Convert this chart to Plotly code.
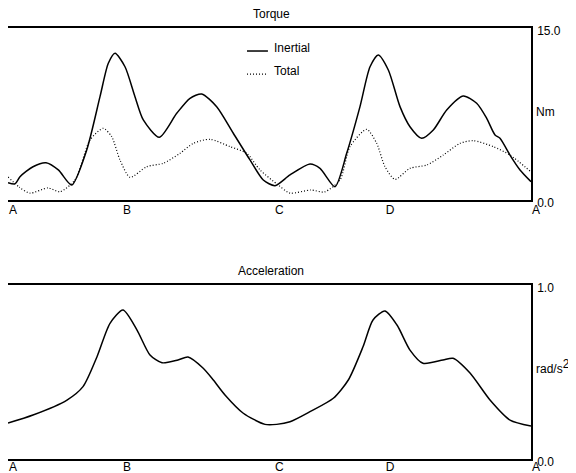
import plotly.graph_objects as go

# Torque data (x in % of cycle A..A)
inertial_x = [0, 1.34, 2.29, 4.78, 7.27, 9.62, 12.18, 15.05, 17.59, 19.18, 20.46, 22.37, 24.28,
              25.87, 28.93, 32.26, 34.8, 37.04, 39.9, 43.08, 46.27, 48.81, 51.05, 53.92, 57.74,
              59.66, 62.52, 64.76, 67.3, 69.22, 70.8, 72.72, 74.95, 76.86, 79.1, 81.32, 83.88,
              87.06, 89.61, 91.53, 93.12, 94.07, 95.98, 97.9, 100]
inertial_y = [1.51, 1.4, 2.03, 2.9, 3.25, 2.62, 1.31, 4.36, 9.01, 11.92, 12.79, 11.62, 9.01,
              6.98, 5.47, 7.56, 8.87, 9.24, 8.14, 5.82, 3.49, 1.74, 1.25, 2.18, 3.14,
              2.76, 1.16, 4.07, 8.14, 11.62, 12.65, 11.34, 8.14, 6.39, 5.38, 6.1, 7.85,
              9.07, 8.43, 7.12, 5.67, 5.38, 3.92, 2.62, 1.6]

total_x = [0, 2.2, 4.21, 7.65, 9.94, 12.81, 15.68, 18.22, 19.83, 21.41, 23.33, 26.52, 29.69,
           32.89, 35.43, 38.62, 42.45, 45.64, 48.18, 51.68, 53.92, 57.9, 60.5, 63.48, 65.39,
           68.58, 70.5, 72.08, 74.0, 76.86, 80.06, 83.23, 86.42, 88.97, 92.8, 95.98, 100]
total_y = [2.0, 1.1, 0.6, 1.05, 0.72, 1.74, 5.23, 6.25, 5.52, 3.49, 1.98, 2.9, 3.2,
           4.07, 4.94, 5.29, 4.65, 4.07, 2.62, 1.3, 0.6, 0.87, 0.7, 1.74, 4.65,
           6.16, 4.94, 2.9, 1.8, 2.76, 3.05, 3.92, 4.94, 5.17, 4.65, 3.92, 2.45]

# Acceleration data
acc_x = [0, 4.78, 11.28, 14.34, 17.02, 19.5, 21.99, 24.67, 27.15, 29.45, 32.5, 34.42, 37.28,
         39.26, 41.49, 44.99, 49.14, 51.37, 53.92, 57.74, 62.2, 65.07, 67.88, 69.79, 72.08,
         74.38, 76.86, 79.35, 83.17, 85.09, 88.34, 92.16, 95.98, 100]
acc_y = [0.207, 0.253, 0.339, 0.416, 0.588, 0.78, 0.856, 0.741, 0.598, 0.553, 0.569, 0.586, 0.523,
         0.454, 0.368, 0.263, 0.199, 0.199, 0.214, 0.272, 0.349, 0.454, 0.645, 0.799, 0.851,
         0.77, 0.626, 0.55, 0.569, 0.579, 0.494, 0.339, 0.224, 0.19]

phase_pos = [0, 21.8, 50.9, 72.1, 100]
phase_labels = ["A", "B", "C", "D", "A"]
legend_names = ["Inertial", "Total"]

FONT = "Liberation Sans, Arial, Helvetica, sans-serif"
DOT = "1px,2px"

fig = go.Figure()
fig.add_trace(go.Scatter(x=inertial_x, y=inertial_y, mode="lines", name=legend_names[0],
                         showlegend=False,
                         line=dict(color="black", width=1.5, shape="spline", smoothing=0.7),
                         xaxis="x", yaxis="y"))
fig.add_trace(go.Scatter(x=total_x, y=total_y, mode="lines", name=legend_names[1],
                         showlegend=False,
                         line=dict(color="black", width=1.2, dash=DOT, shape="spline", smoothing=0.7),
                         xaxis="x", yaxis="y"))
fig.add_trace(go.Scatter(x=acc_x, y=acc_y, mode="lines", name="Acceleration", showlegend=False,
                         line=dict(color="black", width=1.5, shape="spline", smoothing=0.7),
                         xaxis="x2", yaxis="y2"))

axis_common = dict(showline=True, linecolor="black", linewidth=1.5, mirror=True,
                   showgrid=False, zeroline=False, ticks="", automargin=False)

# manual legend (short line samples as in the original)
shapes = [
    dict(type="line", xref="paper", yref="paper", x0=0.457, x1=0.497, y0=0.9466, y1=0.9466,
         line=dict(color="black", width=1.5)),
    dict(type="line", xref="paper", yref="paper", x0=0.457, x1=0.497, y0=0.893, y1=0.893,
         line=dict(color="black", width=1.2, dash=DOT)),
]

fig.update_layout(
    width=568, height=465,
    margin=dict(l=0, r=45, t=20, b=14),
    paper_bgcolor="white", plot_bgcolor="white",
    font=dict(family=FONT, size=12, color="black"),
    showlegend=False,
    xaxis=dict(domain=[0, 1], range=[0, 100], anchor="y", tickvals=phase_pos, ticktext=phase_labels,
               ticklabelshift=5, ticklabelstandoff=-2, **axis_common),
    yaxis=dict(domain=[0.601, 1], range=[0, 15], anchor="x", side="right", tickvals=[0, 15],
               ticktext=["0.0", "15.0"], ticklabelstandoff=2, ticklabelshift=3, **axis_common),
    xaxis2=dict(domain=[0, 1], range=[0, 100], anchor="y2", tickvals=phase_pos, ticktext=phase_labels,
                ticklabelshift=5, ticklabelstandoff=-4, **axis_common),
    yaxis2=dict(domain=[0, 0.4037], range=[0, 1], anchor="x2", side="right", tickvals=[0, 1],
                ticktext=["0.0", "1.0"], ticklabelstandoff=2, ticklabelshift=3, **axis_common),
    shapes=shapes,
    annotations=[
        dict(text="Torque", x=0.503, y=1, xref="paper", yref="paper", xanchor="center",
             yanchor="bottom", yshift=5, showarrow=False, font=dict(size=12)),
        dict(text="Acceleration", x=0.503, y=0.4037, xref="paper", yref="paper", xanchor="center",
             yanchor="bottom", yshift=5, showarrow=False, font=dict(size=12)),
        dict(text=legend_names[0], x=0.505, y=0.9536, xref="paper", yref="paper", xanchor="left",
             yanchor="middle", showarrow=False, font=dict(size=12)),
        dict(text=legend_names[1], x=0.505, y=0.900, xref="paper", yref="paper", xanchor="left",
             yanchor="middle", showarrow=False, font=dict(size=12)),
        dict(text="Nm", x=1, y=0.805, xref="paper", yref="paper", xanchor="left",
             yanchor="middle", xshift=3, showarrow=False, font=dict(size=12)),
        dict(text="rad/s<sup><span style='font-size:12px'>2</span></sup>", x=1, y=0.215,
             xref="paper", yref="paper", xanchor="left",
             yanchor="middle", xshift=3, showarrow=False, font=dict(size=12)),
    ],
)

fig.write_html("out.html")
